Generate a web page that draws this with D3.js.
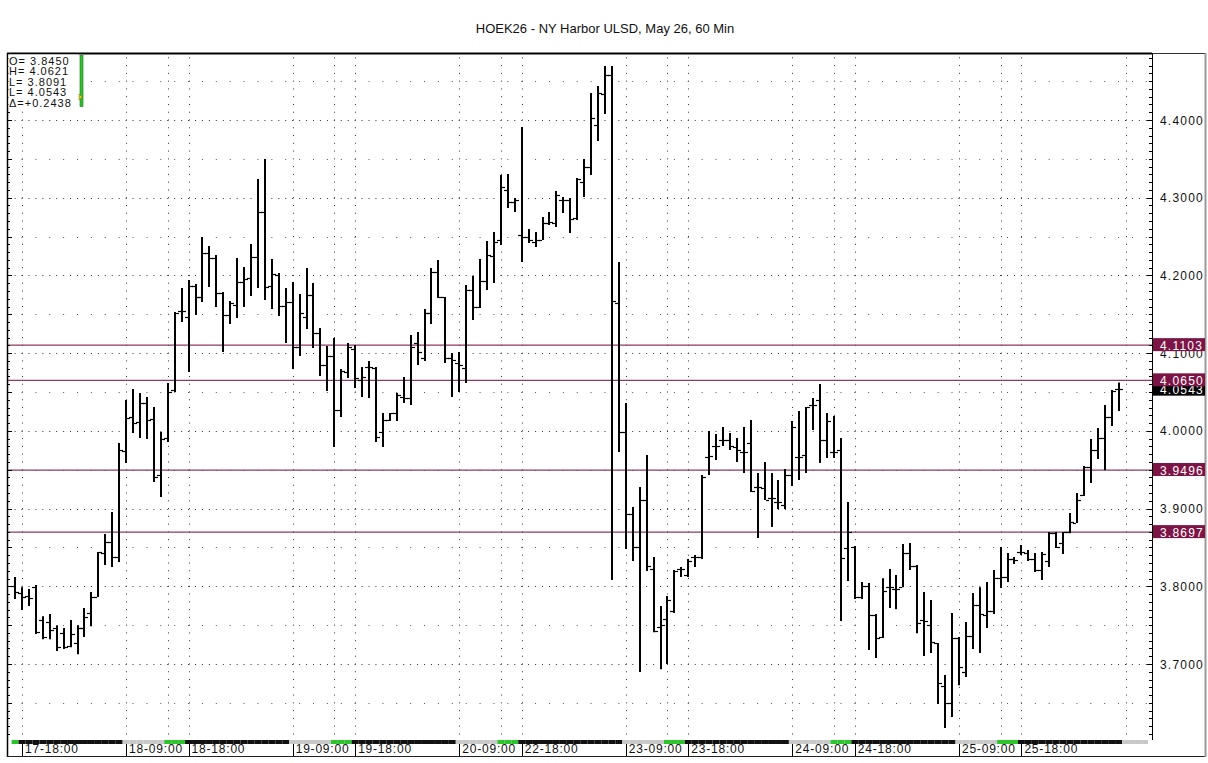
<!DOCTYPE html>
<html>
<head>
<meta charset="utf-8">
<script src="https://cdn.jsdelivr.net/npm/d3@7/dist/d3.min.js"></script>
<style>
    body { margin: 0; background: #fff; }
    text { font-family: "Liberation Sans", Arial, sans-serif; }
</style>
</head>
<body>
<svg id="chart" width="1208" height="763"></svg>
<script>
//Hourly bars, first bar sits one slot before 17-18:00
let firstSlot = -1;
let openVals = [
    3.8002, 3.7912, 3.7874, 3.7989, 3.7565, 3.7539, 3.7462, 3.7397, 3.7230, 3.7269,
    3.7462, 3.7655, 3.7861, 3.8427, 3.8569, 3.8376, 3.9740, 4.0178, 4.0113, 4.0358,
    4.0152, 3.9431, 3.9907, 4.0525, 4.1542, 4.1465, 4.1864, 4.1722, 4.2288, 4.2224,
    4.1773, 4.1490, 4.1619, 4.1915, 4.1967, 4.2237, 4.2816, 4.1864, 4.2005, 4.1606,
    4.1658, 4.1078, 4.1465, 4.1748, 4.1259, 4.0847, 4.0963, 4.0268, 4.0757, 4.1053,
    4.0654, 4.0821, 4.0808, 3.9984, 4.0139, 4.0229, 4.0435, 4.0422, 4.1130, 4.0937,
    4.1516, 4.2044, 4.1722, 4.0937, 4.0873, 4.0808, 4.1812, 4.1593, 4.1928, 4.2250,
    4.2456, 4.3099, 4.2945, 4.2520, 4.2494, 4.2430, 4.2456, 4.2674, 4.2674, 4.2970,
    4.2970, 4.2739, 4.3202, 4.3395, 4.3936, 4.4335, 4.4579, 4.1645, 3.9984, 3.8929,
    3.8505, 3.9109, 3.8221, 3.7475, 3.7578, 3.7681, 3.8221, 3.8144, 3.8376, 3.8376,
    3.9663, 3.9804, 3.9882, 3.9882, 3.9792, 3.9727, 3.9843, 3.9277, 3.9264, 3.9135,
    3.9084, 3.9045, 3.9431, 3.9663, 3.9689, 4.0332, 4.0396, 3.9882, 3.9727, 3.9753,
    3.8492, 3.8505, 3.7861, 3.8002, 3.7629, 3.7346, 3.7989, 3.7964, 3.7989, 3.8427,
    3.8260, 3.7565, 3.7500, 3.7269, 3.6716, 3.6497, 3.7333, 3.6896, 3.7359, 3.7758,
    3.7629, 3.7681, 3.8105, 3.8118, 3.8350, 3.8440, 3.8427, 3.8350, 3.8208, 3.8324,
    3.8684, 3.8556, 3.8697, 3.8813, 3.9174, 3.9534, 3.9753, 3.9907, 4.0178, 4.0538
];
let highVals = [
    3.8118, 3.7989, 3.7964, 3.8015, 3.7616, 3.7642, 3.7500, 3.7462, 3.7565, 3.7500,
    3.7719, 3.7925, 3.8440, 3.8672, 3.8955, 3.9843, 4.0396, 4.0538, 4.0487, 4.0435,
    4.0306, 3.9984, 4.0615, 4.1529, 4.1838, 4.1941, 4.1889, 4.2494, 4.2378, 4.2263,
    4.1786, 4.1670, 4.2224, 4.2108, 4.2404, 4.3241, 4.3498, 4.2211, 4.2031, 4.1838,
    4.1915, 4.1761, 4.2095, 4.1902, 4.1323, 4.1091, 4.1194, 4.0795, 4.1130, 4.1104,
    4.0821, 4.0898, 4.0821, 4.0229, 4.0229, 4.0487, 4.0692, 4.1233, 4.1272, 4.1568,
    4.2095, 4.2198, 4.1722, 4.1001, 4.1014, 4.1876, 4.1992, 4.2211, 4.2443, 4.2559,
    4.3292, 4.3305, 4.2996, 4.3910, 4.2597, 4.2559, 4.2752, 4.2816, 4.3086, 4.3009,
    4.2996, 4.3254, 4.3498, 4.4347, 4.4438, 4.4695, 4.4695, 4.2172, 4.0358, 3.9019,
    3.9277, 3.9689, 3.8376, 3.7745, 3.7874, 3.8208, 3.8247, 3.8350, 3.8402, 3.9431,
    3.9997, 3.9959, 4.0049, 3.9972, 3.9907, 4.0049, 4.0139, 3.9457, 3.9598, 3.9457,
    3.9367, 3.9508, 4.0126, 4.0255, 4.0306, 4.0422, 4.0602, 4.0229, 4.0190, 3.9907,
    3.9084, 3.8517, 3.8054, 3.8041, 3.7642, 3.8105, 3.8221, 3.8144, 3.8543, 3.8556,
    3.8273, 3.7925, 3.7822, 3.7269, 3.6857, 3.7655, 3.7346, 3.7539, 3.7912, 3.7989,
    3.8054, 3.8208, 3.8505, 3.8427, 3.8376, 3.8530, 3.8466, 3.8427, 3.8440, 3.8697,
    3.8697, 3.8697, 3.8942, 3.9199, 3.9547, 3.9894, 4.0036, 4.0332, 4.0525, 4.0621
];
let lowVals = [
    3.7835, 3.7694, 3.7745, 3.7385, 3.7320, 3.7320, 3.7166, 3.7192, 3.7217, 3.7127,
    3.7346, 3.7487, 3.7861, 3.8273, 3.8247, 3.8311, 3.9585, 3.9972, 3.9907, 3.9894,
    3.9341, 3.9148, 3.9856, 4.0499, 4.1400, 4.0757, 4.1490, 4.1658, 4.1851, 4.1593,
    4.1014, 4.1374, 4.1452, 4.1593, 4.1735, 4.1838, 4.1683, 4.1568, 4.1477, 4.1130,
    4.0795, 4.0963, 4.1310, 4.1066, 4.0705, 4.0512, 3.9792, 4.0178, 4.0679, 4.0551,
    4.0435, 4.0422, 3.9856, 3.9792, 4.0126, 4.0126, 4.0358, 4.0332, 4.0847, 4.0898,
    4.1374, 4.1709, 4.0873, 4.0435, 4.0499, 4.0615, 4.1426, 4.1580, 4.1812, 4.1902,
    4.2391, 4.2867, 4.2816, 4.2172, 4.2417, 4.2365, 4.2456, 4.2649, 4.2623, 4.2803,
    4.2546, 4.2713, 4.3009, 4.3292, 4.3730, 4.4077, 3.8080, 3.9727, 3.8479, 3.8324,
    3.6896, 3.8196, 3.7410, 3.6934, 3.6999, 3.7655, 3.8118, 3.8118, 3.8247, 3.8350,
    3.9431, 3.9624, 3.9804, 3.9753, 3.9598, 3.9457, 3.9212, 3.8620, 3.9109, 3.8762,
    3.8994, 3.8994, 3.9290, 3.9367, 3.9457, 4.0010, 3.9585, 3.9650, 3.9650, 3.7552,
    3.8067, 3.7835, 3.7835, 3.7179, 3.7076, 3.7333, 3.7719, 3.7706, 3.7989, 3.8208,
    3.7397, 3.7102, 3.7140, 3.6484, 3.6175, 3.6317, 3.6728, 3.6832, 3.7192, 3.7140,
    3.7462, 3.7642, 3.7977, 3.8054, 3.8286, 3.8402, 3.8324, 3.8183, 3.8080, 3.8247,
    3.8492, 3.8415, 3.8684, 3.8813, 3.9161, 3.9328, 3.9637, 3.9495, 4.0062, 4.0255
];
let closeVals = [
    3.7925, 3.7861, 3.7848, 3.7410, 3.7346, 3.7436, 3.7217, 3.7217, 3.7385, 3.7462,
    3.7603, 3.7861, 3.8440, 3.8569, 3.8376, 3.9753, 4.0165, 4.0100, 4.0358, 4.0139,
    3.9405, 3.9894, 4.0499, 4.1516, 4.1542, 4.1864, 4.1722, 4.2288, 4.2224, 4.1773,
    4.1490, 4.1645, 4.1915, 4.1954, 4.2237, 4.2816, 4.1851, 4.2018, 4.1606, 4.1658,
    4.1078, 4.1516, 4.1748, 4.1259, 4.0847, 4.0963, 4.0268, 4.0769, 4.1078, 4.0679,
    4.0692, 4.0821, 3.9920, 4.0139, 4.0229, 4.0461, 4.0422, 4.1078, 4.1014, 4.1516,
    4.2044, 4.1722, 4.0937, 4.0911, 4.0847, 4.1812, 4.1593, 4.1928, 4.2263, 4.2430,
    4.3138, 4.2945, 4.2970, 4.2494, 4.2456, 4.2456, 4.2674, 4.2687, 4.3035, 4.2970,
    4.2726, 4.3241, 4.3395, 4.4026, 4.4347, 4.4579, 4.1670, 3.9984, 3.8929, 3.8505,
    3.9109, 3.8260, 3.7423, 3.7500, 3.7822, 3.8196, 3.8221, 3.8324, 3.8376, 3.9405,
    3.9676, 3.9804, 3.9882, 3.9804, 3.9753, 3.9727, 3.9225, 3.9277, 3.9109, 3.9135,
    3.9084, 3.9431, 4.0049, 3.9663, 4.0306, 4.0332, 3.9882, 4.0126, 3.9727, 3.8363,
    3.8697, 3.7861, 3.8002, 3.7629, 3.7333, 3.7938, 3.7989, 3.7964, 3.8427, 3.8260,
    3.7526, 3.7552, 3.7282, 3.6754, 3.6497, 3.7333, 3.6960, 3.7359, 3.7758, 3.7642,
    3.7681, 3.8105, 3.8118, 3.8350, 3.8337, 3.8440, 3.8350, 3.8208, 3.8415, 3.8684,
    3.8505, 3.8697, 3.8826, 3.9109, 3.9534, 3.9753, 3.9907, 4.0178, 4.0512, 4.0543
];

//Time axis labels and the hour slot they belong to (slot 0 = 17-18:00)
let timeLabels = ["17-18:00", "18-09:00", "18-18:00", "19-09:00", "19-18:00", "20-09:00", "22-18:00",
    "23-09:00", "23-18:00", "24-09:00", "24-18:00", "25-09:00", "25-18:00"];
let timeLabelSlots = [0, 15, 24, 39, 48, 63, 72, 87, 96, 111, 120, 135, 144];

//Price axis labels
let priceTicks = [3.7, 3.8, 3.9, 4.0, 4.1, 4.2, 4.3, 4.4];

//Horizontal level lines and last price
let levelVals = [4.1103, 4.0650, 3.9496, 3.8697];
let lastPrice = 4.0543;

//Legend at top left
let legendLabels = ["O=", "H=", "L=", "L=", "Δ="];
let legendVals = [" 3.8450", " 4.0621", " 3.8091", " 4.0543", "+0.2438"];

let title = "HOEK26 - NY Harbor ULSD, May 26, 60 Min";

let svg = d3.select("#chart");
let plotLeft = 7, plotRight = 1152, plotTop = 53, plotBottom = 740;

//Scales: one slot per hour, price linear
let x = d3.scaleLinear().domain([0, 159]).range([22, 1125.5]);
let y = d3.scaleLinear().domain([3.7, 4.4]).range([664, 120]);
let slotW = x(1) - x(0);
let cent = y(4.39) - y(4.40);
let lastSlot = Math.floor(x.invert(plotRight));
let hourPos = s => ((s % 24) + 24) % 24;

svg.append("rect").attr("width", 1208).attr("height", 763).attr("fill", "#fff");

//Title
svg.append("text")
    .attr("x", 605).attr("y", 33)
    .attr("text-anchor", "middle")
    .attr("font-size", "13px")
    .attr("fill", "#111")
    .text(title);

let grid = svg.append("g");

//Vertical dotted lines at session start/end
let vSlots = d3.range(0, lastSlot + 1).filter(s => [0, 15, 21].includes(hourPos(s)));
grid.selectAll(".vgrid")
    .data(vSlots)
    .enter().append("line")
    .attr("x1", d => Math.round(x(d)) + 0.5)
    .attr("x2", d => Math.round(x(d)) + 0.5)
    .attr("y1", y(4.48) - 0.5)
    .attr("y2", plotBottom)
    .attr("stroke", "#333")
    .attr("stroke-dasharray", "1," + (cent - 1));

//Horizontal dotted lines, dense at 0.1 and sparse at 0.05
let majorRows = d3.range(3.7, 4.41, 0.1);
let minorRows = d3.range(3.65, 4.46, 0.1);
grid.selectAll(".hmajor")
    .data(majorRows)
    .enter().append("line")
    .attr("x1", x(-2) - 0.5).attr("x2", plotRight)
    .attr("y1", d => Math.round(y(d)) + 0.5)
    .attr("y2", d => Math.round(y(d)) + 0.5)
    .attr("stroke", "#333")
    .attr("stroke-dasharray", "1," + (slotW - 1));
grid.selectAll(".hminor")
    .data(minorRows)
    .enter().append("line")
    .attr("x1", x(0) - 0.5).attr("x2", plotRight)
    .attr("y1", d => Math.round(y(d)) + 0.5)
    .attr("y2", d => Math.round(y(d)) + 0.5)
    .attr("stroke", "#555")
    .attr("stroke-dasharray", "1," + (2 * slotW - 1));

//Level lines
svg.append("g")
    .selectAll("line")
    .data(levelVals)
    .enter().append("line")
    .attr("x1", plotLeft).attr("x2", plotRight)
    .attr("y1", d => y(d)).attr("y2", d => y(d))
    .attr("stroke", "#8e3a62")
    .attr("stroke-width", 1.3);

//OHLC bars
let bars = d3.range(openVals.length).map(i => ({
    slot: firstSlot + i, o: openVals[i], h: highVals[i], l: lowVals[i], c: closeVals[i]
}));
let barG = svg.append("g").selectAll("g")
    .data(bars)
    .enter().append("g");
barG.append("line")
    .attr("x1", d => Math.round(x(d.slot))).attr("x2", d => Math.round(x(d.slot)))
    .attr("y1", d => y(d.h)).attr("y2", d => y(d.l))
    .attr("stroke", "#000").attr("stroke-width", 2);
barG.append("line")
    .attr("x1", d => Math.round(x(d.slot)) - 4).attr("x2", d => Math.round(x(d.slot)) - 1)
    .attr("y1", d => Math.round(y(d.o)) + 0.5).attr("y2", d => Math.round(y(d.o)) + 0.5)
    .attr("stroke", "#000").attr("stroke-width", 1.2);
barG.append("line")
    .attr("x1", d => Math.round(x(d.slot)) + 1).attr("x2", d => Math.round(x(d.slot)) + 4)
    .attr("y1", d => Math.round(y(d.c)) + 0.5).attr("y2", d => Math.round(y(d.c)) + 0.5)
    .attr("stroke", "#000").attr("stroke-width", 1.2);

//Session strip under the plot: black night, gray morning, green afternoon
let stripSlots = d3.range(firstSlot, lastSlot + 1);
svg.append("g")
    .selectAll("rect")
    .data(stripSlots)
    .enter().append("rect")
    .attr("x", d => Math.max(plotLeft, x(d) - slotW / 2))
    .attr("width", d => Math.min(plotRight - 4, x(d) + slotW / 2) - Math.max(plotLeft, x(d) - slotW / 2))
    .attr("y", plotBottom)
    .attr("height", 4)
    .attr("fill", d => hourPos(d) < 15 ? "#111" : (hourPos(d) < 21 ? "#c8c8c8" : "#2bc42b"));

//Time labels
let tl = svg.append("g");
tl.selectAll("line")
    .data(timeLabelSlots)
    .enter().append("line")
    .attr("x1", d => Math.round(x(d)) + 0.5).attr("x2", d => Math.round(x(d)) + 0.5)
    .attr("y1", plotBottom + 4).attr("y2", 756)
    .attr("stroke", "#000");
tl.selectAll("text")
    .data(timeLabels)
    .enter().append("text")
    .attr("x", (d, i) => x(timeLabelSlots[i]) + 3)
    .attr("y", 753)
    .attr("font-size", "12px")
    .attr("letter-spacing", "0.8px")
    .attr("fill", "#111")
    .text(d => d);

//Frame
svg.append("line").attr("x1", plotLeft).attr("x2", plotRight).attr("y1", 53.5).attr("y2", 53.5)
    .attr("stroke", "#000").attr("stroke-width", 2);
svg.append("line").attr("x1", plotRight).attr("x2", 1206).attr("y1", 53.5).attr("y2", 53.5)
    .attr("stroke", "#333").attr("stroke-width", 1);
svg.append("line").attr("x1", 7.5).attr("x2", 7.5).attr("y1", plotTop).attr("y2", 757)
    .attr("stroke", "#000").attr("stroke-width", 1.5);
svg.append("line").attr("x1", plotRight + 0.5).attr("x2", plotRight + 0.5).attr("y1", plotTop).attr("y2", plotBottom)
    .attr("stroke", "#000");
svg.append("line").attr("x1", plotLeft).attr("x2", 1206).attr("y1", 756.5).attr("y2", 756.5)
    .attr("stroke", "#222");
svg.append("line").attr("x1", 1205.5).attr("x2", 1205.5).attr("y1", plotTop).attr("y2", 757)
    .attr("stroke", "#999").attr("stroke-width", 2);

//Cent ticks on the right axis and on the left border
let cents = d3.range(361, 449).map(d => d / 100);
let ticks = svg.append("g");
ticks.selectAll(".rt")
    .data(cents)
    .enter().append("line")
    .attr("x1", d => plotRight - (Math.round(d * 100) % 10 === 0 ? 5 : 3)).attr("x2", plotRight)
    .attr("y1", d => Math.round(y(d)) + 0.5).attr("y2", d => Math.round(y(d)) + 0.5)
    .attr("stroke", "#000");
ticks.selectAll(".lt")
    .data(cents)
    .enter().append("line")
    .attr("x1", plotLeft).attr("x2", d => plotLeft + (Math.round(d * 100) % 5 === 0 ? 5 : 3))
    .attr("y1", d => Math.round(y(d)) + 0.5).attr("y2", d => Math.round(y(d)) + 0.5)
    .attr("stroke", "#000");

//Price labels
svg.append("g")
    .selectAll("text")
    .data(priceTicks)
    .enter().append("text")
    .attr("x", 1160)
    .attr("y", d => y(d) + 4.5)
    .attr("font-size", "12px")
    .attr("letter-spacing", "1.2px")
    .attr("fill", "#111")
    .text(d => d.toFixed(4));

//Last price box then level boxes on top
let boxes = svg.append("g");
boxes.append("rect")
    .attr("x", plotRight + 1).attr("y", y(lastPrice) - 4).attr("width", 52).attr("height", 11)
    .attr("fill", "#000");
boxes.append("text")
    .attr("x", 1160).attr("y", y(lastPrice) + 5.5)
    .attr("font-size", "12px").attr("letter-spacing", "1.2px")
    .attr("fill", "#fff")
    .text(lastPrice.toFixed(4));
let lvl = boxes.selectAll(".lvl")
    .data(levelVals)
    .enter().append("g");
lvl.append("rect")
    .attr("x", plotRight + 1).attr("y", d => y(d) - 7).attr("width", 52).attr("height", 13)
    .attr("fill", "#7d1446");
lvl.append("text")
    .attr("x", 1160).attr("y", d => y(d) + 4.5)
    .attr("font-size", "12px").attr("letter-spacing", "1.2px")
    .attr("fill", "#fff")
    .text(d => d.toFixed(4));

//Legend on a white patch
let lg = svg.append("g");
lg.append("rect")
    .attr("x", 8.5).attr("y", 54.5).attr("width", 70).attr("height", 53)
    .attr("fill", "#fff");
lg.selectAll("text")
    .data(legendLabels)
    .enter().append("text")
    .attr("x", 9)
    .attr("y", (d, i) => 65 + i * 10.4)
    .attr("font-size", "11px")
    .attr("letter-spacing", "1px")
    .attr("fill", "#111")
    .text((d, i) => d + legendVals[i]);
lg.append("rect")
    .attr("x", 80).attr("y", 55.5).attr("width", 3).attr("height", 51)
    .attr("fill", "#33c233").attr("stroke", "#1a6e1a").attr("stroke-width", 0.6);
lg.append("path")
    .attr("d", "M79,94 L82.5,97 L79,100 Z")
    .attr("fill", "#e0d020").attr("stroke", "#6a6a00").attr("stroke-width", 0.5);
</script>
</body>
</html>
